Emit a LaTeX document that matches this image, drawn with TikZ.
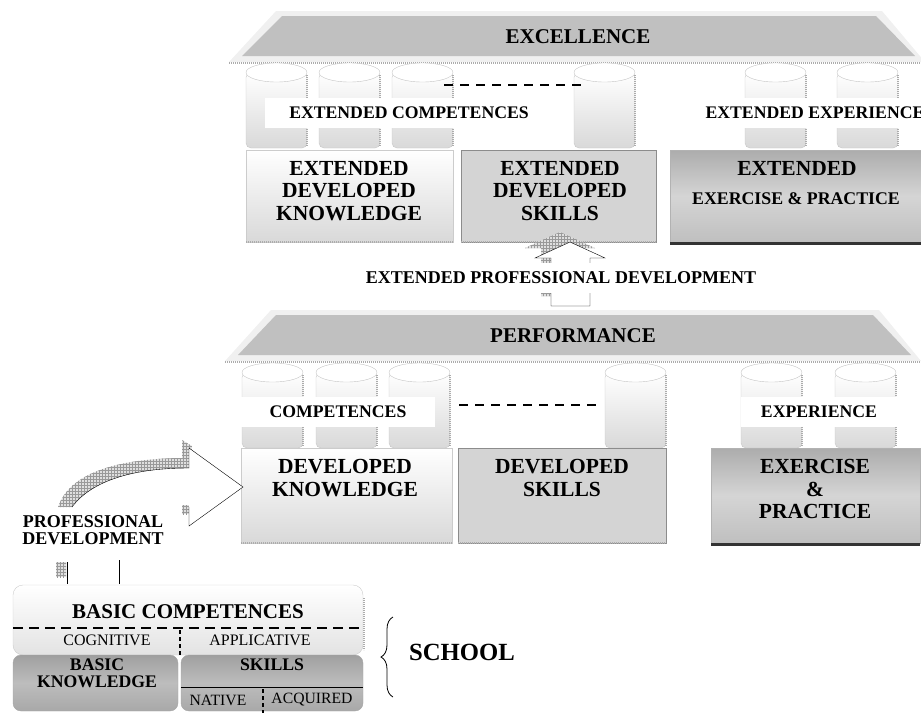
\documentclass[tikz,border=0pt]{standalone}
\usepackage{fontspec}
\setmainfont{Liberation Serif}
\usetikzlibrary{patterns,decorations.pathreplacing}

\definecolor{roofgray}{RGB}{192,192,192}
\definecolor{roofglow}{RGB}{240,240,240}

\tikzset{
  cyl/.pic={
    \path[cylbody] (0,9.5) -- (0,85) -- (61,85) -- (61,9.5) -- cycle;
    \draw[ticks] (61,12) -- (61,83);
    \path[cyltop] (30.5,9.5) ellipse [x radius=30.5, y radius=9.5];
  }
}

\begin{document}
\begin{tikzpicture}[x=1pt, y=-1pt,
  every node/.style={inner sep=0pt, outer sep=0pt},
  head/.style={font=\bfseries\fontsize{21}{22}\selectfont},
  boxtxt/.style={font=\bfseries\fontsize{21.5}{22.5}\selectfont, align=center},
  tag/.style={fill=white, minimum height=30, font=\bfseries\fontsize{17.7}{19}\selectfont},
  thin/.style={font=\fontsize{16}{17}\selectfont},
  lightbox/.style={draw=gray!40, top color=white, bottom color=gray!30},
  midbox/.style={draw=gray!90, fill=gray!34},
  darkbox/.style={draw=gray!60, top color=gray!65, bottom color=gray!50, middle color=gray!33},
  basebox/.style={draw=gray!70, rounded corners=8, top color=gray!75, bottom color=gray!68, middle color=gray!52},
  cylbody/.style={draw=gray!45, rounded corners=5, top color=white, bottom color=gray!30},
  cyltop/.style={draw=gray!45, fill=white},
  ticks/.style={draw=gray!65, line width=2pt, dash pattern=on 0.7pt off 1.3pt},
  shade/.style={draw=gray!40!black, line width=2.5pt},
  hatch/.style={pattern=grid, pattern color=gray!80, preaction={fill=gray!25}},
  dashline/.style={line width=2.2pt, dash pattern=on 9pt off 7pt},
  splitdash/.style={line width=1.1pt, dash pattern=on 4pt off 3pt}]
\useasboundingbox (0,0) rectangle (921,713);
\clip (0,0) rectangle (921,713);

% upper level
\fill[roofglow] (276,11) -- (882,11) -- (925,62) -- (229,62) -- cycle;
\fill[roofgray] (282,16) -- (876,16) -- (915,56) -- (242,56) -- cycle;
\draw[ticks] (229,63) -- (921,63);
\node[head] (EXC) at (578,37) {EXCELLENCE};

\pic at (246,63) {cyl};
\pic at (319,63) {cyl};
\pic at (392,63) {cyl};
\pic at (574,63) {cyl};
\pic at (745,63) {cyl};
\pic at (837,63) {cyl};

\node[tag, minimum width=288] (EC) at (409,113) {EXTENDED COMPETENCES};
\node[tag, minimum width=230] (EE) at (815,113) {EXTENDED EXPERIENCE};
\draw[dashline] (444,85) -- (585,85);

\node[lightbox, minimum width=207, minimum height=92] (EDK) at (349.5,196) {};
\node[midbox, minimum width=195, minimum height=92] (EDS) at (558.5,196) {};
\node[darkbox, minimum width=256, minimum height=92] (EEP) at (798,196) {};
\draw[ticks] (EDK.south west) -- (EDK.south east);
\draw[ticks] (EDS.south west) -- (EDS.south east);
\draw[shade] ([yshift=-1.5pt]EEP.south west) -- ([yshift=-1.5pt]EEP.south east);
\node[boxtxt] (EDKt) at (349,191) {EXTENDED\\DEVELOPED\\KNOWLEDGE};
\node[boxtxt] (EDSt) at (560,191) {EXTENDED\\DEVELOPED\\SKILLS};
\node[boxtxt] (EEPt) at (797,168) {EXTENDED};
\node[font=\bfseries\fontsize{17.8}{19}\selectfont] (EEPs) at (796,199) {EXERCISE \& PRACTICE};

% step between the levels
\path[hatch] (541,296) -- (541,248) -- (525,248) -- (560,232) -- (595,248) -- (580,248) -- (580,296) -- cycle;
\draw[fill=white] (551,306) -- (551,258) -- (535,258) -- (570,242) -- (605,258) -- (590,258) -- (590,306) -- cycle;
\node[fill=white, minimum height=30, inner xsep=3pt, font=\bfseries\fontsize{18}{19}\selectfont] (EPD) at (561,278) {EXTENDED PROFESSIONAL DEVELOPMENT};

% lower level
\fill[roofglow] (271,310) -- (879,310) -- (921,361) -- (225,361) -- cycle;
\fill[roofgray] (276,315) -- (873,315) -- (911,355) -- (238,355) -- cycle;
\draw[ticks] (225,362) -- (921,362);
\node[head] (PERF) at (573,336) {PERFORMANCE};

\pic at (242,363) {cyl};
\pic at (316,363) {cyl};
\pic at (389,363) {cyl};
\pic at (605,363) {cyl};
\pic at (741,363) {cyl};
\pic at (835,363) {cyl};

\node[tag, minimum width=194] (C) at (338,412) {COMPETENCES};
\node[tag, minimum width=156] (E) at (819,412) {EXPERIENCE};
\draw[dashline] (459,405) -- (602,405);

\node[lightbox, minimum width=211, minimum height=95] (DK) at (346.5,495.5) {};
\node[midbox, minimum width=208, minimum height=95] (DS) at (562,495.5) {};
\node[darkbox, minimum width=209, minimum height=95] (EP) at (815.5,495.5) {};
\draw[ticks] (DK.south west) -- (DK.south east);
\draw[ticks] (DS.south west) -- (DS.south east);
\draw[shade] ([yshift=-1.5pt]EP.south west) -- ([yshift=-1.5pt]EP.south east);
\node[boxtxt] (DKt) at (345,478) {DEVELOPED\\KNOWLEDGE};
\node[boxtxt] (DSt) at (562,478) {DEVELOPED\\SKILLS};
\node[boxtxt] (EPt) at (815,489) {EXERCISE\\\&\\PRACTICE};

% school to lower level
\path[hatch] (58,507) .. controls (68,478) and (105,459) .. (182,458) -- (182,440) -- (192,446) -- (189,468) .. controls (135,468) and (92,480) .. (72,507) -- cycle;
\path[hatch] (182,505) rectangle (189,514);
\draw[fill=white] (189,468) -- (189,448) -- (243,487) -- (189,526) -- (189,507);
\draw (72,507) .. controls (92,480) and (135,468) .. (189,468);
\node[align=center, font=\bfseries\fontsize{18}{16.5}\selectfont] (PD) at (93,530) {PROFESSIONAL\\DEVELOPMENT};
\path[hatch] (56,562) rectangle (66,577);
\draw (67,562) -- (67,584);
\draw (119,560) -- (119,584);

% school
\node[draw=gray!40, rounded corners=10, top color=white, bottom color=gray!22, minimum width=350, minimum height=70] (BC) at (188,620) {};
\node[basebox, minimum width=165, minimum height=56] (BK) at (95.5,683) {};
\node[basebox, minimum width=182, minimum height=56] (SK) at (272,683) {};
\draw[ticks] (364,598) -- (364,650);
\node[head] (BCt) at (188,612) {BASIC COMPETENCES};
\draw[dashline, dash pattern=on 10pt off 6pt] (BC.west |- 0,628) -- (BC.east |- 0,628);
\draw[splitdash] (180,630) -- (180,657);
\node[thin] (COG) at (107,640) {COGNITIVE};
\node[thin] (APP) at (260,640) {APPLICATIVE};
\node[align=center, font=\bfseries\fontsize{17.7}{17}\selectfont] (BKt) at (97,673.5) {BASIC\\KNOWLEDGE};
\node[font=\bfseries\fontsize{17.7}{19}\selectfont] (SKt) at (272,665) {SKILLS};
\draw[line width=0.8pt] (SK.west |- 0,687) -- (SK.east |- 0,687);
\draw[splitdash] (263,689) -- (263,713);
\node[font=\fontsize{15.7}{17}\selectfont] (NAT) at (218,700) {NATIVE};
\node[font=\fontsize{15.7}{17}\selectfont] (ACQ) at (312,700) {ACQUIRED};

\draw[line width=0.8pt, decorate, decoration={brace, amplitude=12pt}] (393,697) -- (393,617);
\node[font=\bfseries\fontsize{24.7}{26}\selectfont] (SCH) at (462,652) {SCHOOL};
\end{tikzpicture}
\end{document}
